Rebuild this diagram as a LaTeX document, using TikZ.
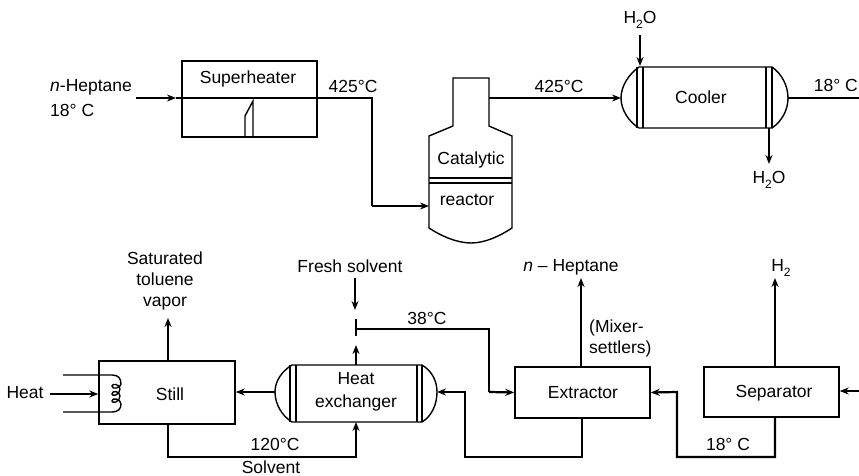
\documentclass[tikz,border=0pt]{standalone}
\usepackage{fontspec}
\setmainfont{Liberation Sans}
\usetikzlibrary{arrows.meta,calc}
\newcommand{\subtwo}{\raisebox{-0.28em}{\fontsize{12}{12}\selectfont 2}}
\tikzset{
  x=1pt,y=-1pt,
  lab/.style={font=\fontsize{17.5}{21}\selectfont,align=center,inner sep=0pt},
  unit/.style={draw,line width=1.4pt,inner sep=0pt,lab},
  vessel/.style={line width=1.4pt},
  pipe/.style={line width=2.2pt},
  feed/.style={line width=2.2pt,-{Stealth[length=9pt,width=7pt]}},
  thinfeed/.style={line width=1.5pt,-{Stealth[length=9pt,width=7pt]}},
}
\begin{document}
\begin{tikzpicture}
\useasboundingbox (0,0) rectangle (859,476);
% ---- units
\node[unit,minimum width=135pt,minimum height=76pt] (sh) at (249.5,99) {};
\node[lab] (shl) at (248,79) {Superheater};
\draw[vessel] (245,137) -- (245,116) -- (253,101) -- (253,137);
\draw[vessel] (453,126) -- (453,78) -- (489,78) -- (489,126) -- (512,136) -- (512,228)
  .. controls (500,236) and (485,243) .. (471,243)
  .. controls (457,243) and (441,236) .. (429,228) -- (429,136) -- (453,126);
\draw[vessel] (429,178) -- (512,178) (429,183) -- (512,183);
\coordinate (rin) at (429,206);
\coordinate (rout) at (489,98);
\node[lab] (cat) at (471,160) {Catalytic};
\node[lab] (rea) at (467,200) {reactor};
% cooler
\draw[vessel] (639,67) -- (772,67) .. controls (782,74) and (788,86) .. (788,98)
  .. controls (788,110) and (782,121) .. (772,128) -- (639,128)
  .. controls (629,122) and (621,110) .. (621,98) .. controls (621,86) and (629,74) .. (639,67);
\draw[vessel] (637,67) -- (637,128) (643,67) -- (643,128) (766,67) -- (766,128) (772,67) -- (772,128);
\coordinate (cin) at (621,98);
\coordinate (cout) at (788,98);
\coordinate (ctop) at (640,66);
\coordinate (cbot) at (769,128);
\node[lab] (coo) at (701,97) {Cooler};
% still
\node[unit,minimum width=136pt,minimum height=63pt] (st) at (167,392.5) {};
\node[lab] (stl) at (170,394) {Still};
\draw[vessel] (63,375) -- (112,375) .. controls (118,375) and (121,378) .. (121,384)
  .. controls (121,388) and (112,390) .. (112,386) .. controls (112,383) and (120,384) .. (120,389)
  .. controls (120,395) and (112,397) .. (112,394) .. controls (112,390) and (120,391) .. (120,396)
  .. controls (120,402) and (112,404) .. (112,401) .. controls (112,397) and (121,399) .. (121,404)
  .. controls (121,409) and (118,412) .. (112,412) -- (63,412);
% heat exchanger
\draw[vessel] (292,365) -- (422,365) .. controls (432,371) and (437,381) .. (437,392)
  .. controls (437,404) and (432,416) .. (422,422) -- (292,422)
  .. controls (282,416) and (275,404) .. (275,392) .. controls (275,381) and (282,371) .. (292,365);
\draw[vessel] (290,365) -- (290,422) (296,365) -- (296,422) (417,365) -- (417,422) (422,365) -- (422,422);
\coordinate (hl) at (275,392);
\coordinate (hr) at (437,392);
\coordinate (ht) at (356,365);
\coordinate (hb) at (356,422);
\node[lab] (hxl) at (356,392) {Heat\\[2pt]exchanger};
% extractor, separator
\node[unit,minimum width=135pt,minimum height=51pt] (ex) at (582.5,392.5) {};
\node[lab] (exl) at (583,393) {Extractor};
\node[unit,minimum width=135pt,minimum height=50pt] (se) at (771.5,392) {};
\node[lab] (sel) at (774,393) {Separator};
% ---- labels
\node[lab,anchor=west] (feedl) at (50,87) {\textit{n}-Heptane};
\node[lab,anchor=west] (feedt) at (50,110) {18° C};
\node[lab] (t1) at (353,86) {425°C};
\node[lab] (t2) at (559,86) {425°C};
\node[lab,anchor=east] (t3) at (858,85) {18° C};
\node[lab] (w1) at (640,20) {H\subtwo O};
\node[lab] (w2) at (769,180) {H\subtwo O};
\node[lab] (vap) at (165,281) {Saturated\\toluene\\vapor};
\node[lab] (heat) at (25,393) {Heat};
\node[lab] (fresh) at (350,266) {Fresh solvent};
\node[lab] (t4) at (427,318) {38°C};
\node[lab] (t5) at (275,444) {120°C};
\node[lab] (solv) at (271,467) {Solvent};
\node[lab] (hep) at (571,267) {\textit{n} -- Heptane};
\node[lab,align=left,anchor=west] (mix) at (589,338) {(Mixer-\\settlers)};
\node[lab] (t6) at (728,444) {18° C};
\node[lab] (h2) at (781,268) {H\subtwo};
% ---- connectors
\coordinate (a1) at (136,98);
\coordinate (a2) at (176,98);
\draw[feed] (a1) -- (a2);
\draw[pipe] (a2) -- (sh.east |- a2) -- (372,98) -- (372,206);
\draw[feed] (372,206) -- (rin);
\draw[thinfeed] (rout) -- (cin);
\coordinate (w1e) at (640,35);
\draw[thinfeed] (w1e) -- (ctop);
\coordinate (w2e) at (769,164);
\draw[thinfeed] (cbot) -- (w2e);
\draw[pipe] (cout) -- (859,98);
\draw[feed] (50,394) -- (st.west |- 0,394);
\draw[feed] (168,361) -- (168,318);
\draw[feed] (hl) -- (st.east |- hl);
\coordinate (b1) at (168,424);
\draw[feed] (b1) -- (168,457) -- (356,457) -- (hb);
\draw[feed] (582,418) -- (582,457) -- (465,457) -- (465,392) -- (hr);
\draw[thinfeed] (355,278) -- (355,310);
\draw[thinfeed] (ht) -- (356,345);
\draw[line width=1.5pt] (356,319) -- (356,336);
\draw[line width=1.5pt] (356,329) -- (489,329) -- (489,392);
\draw[feed] (489,392) -- (ex.west);
\draw[thinfeed] (581,367) -- (581,278);
\draw[feed] (775,417) -- (775,457) -- (677,457) -- (677,392) -- (ex.east);
\draw[thinfeed] (775,367) -- (775,278);
\draw[feed] (859,391) -- (se.east |- 0,391);
\end{tikzpicture}
\end{document}
